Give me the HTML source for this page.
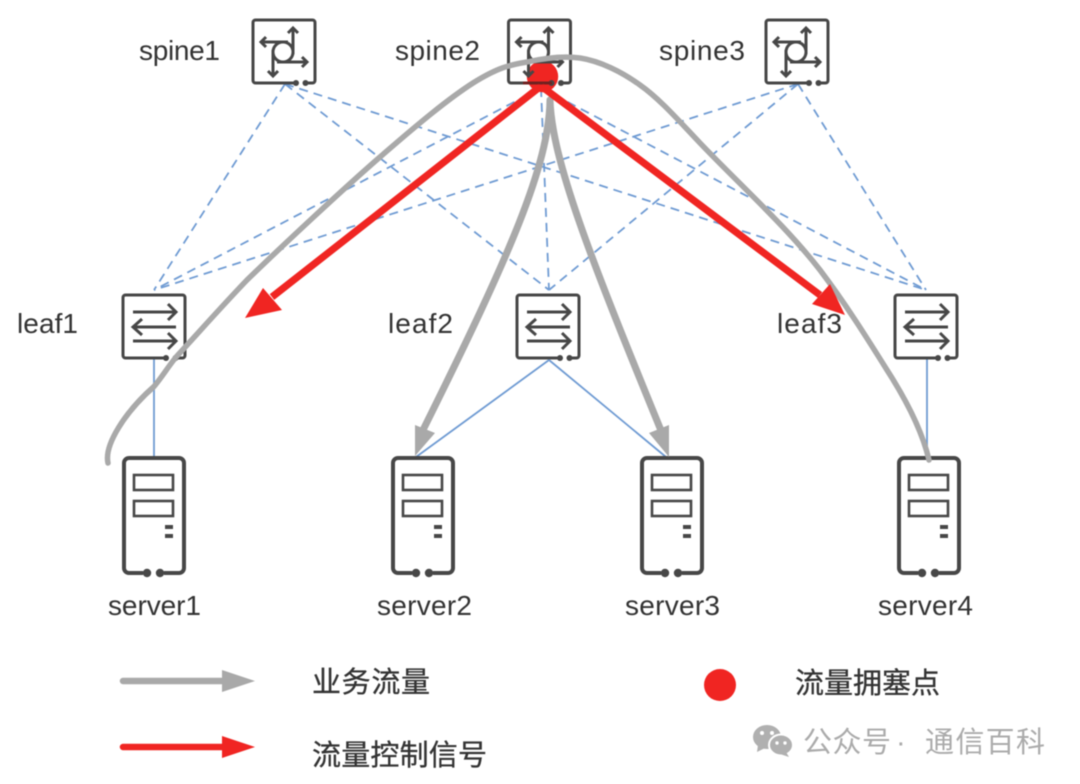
<!DOCTYPE html>
<html><head><meta charset="utf-8"><style>
html,body{margin:0;padding:0;background:#fff}
svg{display:block;filter:blur(0.4px)}
text{font-family:"Liberation Sans","Noto Sans CJK SC",sans-serif;fill:#333}
</style></head><body>
<svg width="1080" height="784" viewBox="0 0 1080 784" xmlns="http://www.w3.org/2000/svg">
<defs>
<g id="boxf" fill="none" stroke="#474747" stroke-width="3">
<path d="M44 64H3.500a2.500 2.500 0 0 1-2.500-2.500V3.500A2.500 2.500 0 0 1 3.500 1H60.500A2.500 2.500 0 0 1 63 3.500V61.500a2.500 2.500 0 0 1-2.500 2.500H54"/>
<circle cx="44" cy="64" r="3" fill="#474747" stroke="none"/>
<circle cx="53.500" cy="64" r="3" fill="#474747" stroke="none"/>
</g>
<g id="spine"><use href="#boxf"/>
<g fill="none" stroke="#474747" stroke-width="3" transform="translate(0,1)">
<circle cx="31" cy="32" r="10"/>
<path d="M9 22H36M41 34V9M21 30V55M25 42H54"/>
<path d="M14 17L9 22L14 27M36 13L41 8L46 13M16 51L21 56L26 51M50 37L55 42L50 47"/>
</g></g>
<g id="leaf"><use href="#boxf"/>
<g fill="none" stroke="#474747" stroke-width="3" transform="translate(0,1)">
<path d="M11 17H54M46 9L54 17L46 25M11 32H54M20 24L11 32L20 40M11 46H54M46 38L54 46L46 54"/>
</g></g>
<g id="server" fill="none" stroke="#474747" stroke-width="4">
<path d="M21 116H7a5 5 0 0 1-5-5V6A5 5 0 0 1 7 1H57a5 5 0 0 1 5 5V111a5 5 0 0 1-5 5H42"/>
<circle cx="25" cy="116" r="4.200" fill="#474747" stroke="none"/>
<circle cx="38" cy="116" r="4.200" fill="#474747" stroke="none"/>
<rect x="12" y="18" width="39" height="15" stroke-width="2.600"/>
<rect x="12" y="44" width="39" height="15" stroke-width="2.600"/>
<rect x="43" y="68" width="8" height="4" fill="#474747" stroke="none"/>
<rect x="43" y="77" width="8" height="4" fill="#474747" stroke="none"/>
</g>
</defs>
<rect width="1080" height="784" fill="#fff"/>

<!-- dashed links -->
<g stroke="#6f9bd3" stroke-width="1.800" fill="none" stroke-dasharray="9 6">
<path d="M285 84L154 290M285 84L549 290M285 84L926 290"/>
<path d="M541 88L154 290M541 88L549 290M541 88L926 290"/>
<path d="M798 84L154 290M798 84L549 290M798 84L926 290"/>
</g>
<!-- solid links -->
<g stroke="#6f9bd3" stroke-width="1.800" fill="none">
<path d="M154 359V458M549 360L416 457M549 360L666 457M927 359V458"/>
</g>

<!-- red point under icons -->
<circle cx="542.500" cy="76.500" r="15.700" fill="#f02522"/>

<use href="#spine" x="252" y="19"/>
<use href="#spine" x="507.500" y="19"/>
<use href="#spine" x="765" y="19"/>
<use href="#leaf" x="122" y="294"/>
<use href="#leaf" x="516" y="294"/>
<use href="#leaf" x="894" y="294"/>
<use href="#server" x="122" y="457"/>
<use href="#server" x="391" y="457"/>
<use href="#server" x="640" y="457"/>
<use href="#server" x="897" y="457"/>

<!-- gray flows -->
<g fill="none" stroke="#a9a9a9" stroke-linecap="round">
<path d="M108 463C104 445 125 412 154 386.500C162 377 170 364 177 356C200 331 222 306 247 280C281 247 342 190 380 157C418 124 448 99 473 83C497 68 509 65 527 62C545 58 565 56 580 58C600 61 622 72 640 85C660 99 680 122 700 143C740 185 785 225 820 270C845 303 867 338 887 370C905 398 922 430 929 460" stroke-width="5.500"/>
<path d="M550 100C549 165 510 255 424 428" stroke-width="7"/>
<path d="M550 100C552 160 590 257 660 428" stroke-width="7"/>
</g>
<path d="M415 456L415 425L435 433Z" fill="#a9a9a9"/>
<path d="M669 457L649 433L669 425Z" fill="#a9a9a9"/>

<!-- red -->
<g stroke="#f02522" stroke-width="7.200" fill="none">
<path d="M541 86L272 297M541 86L820 295"/>
</g>
<path d="M245 318L263 288L282 310Z" fill="#f02522"/>
<path d="M845 315L812 304L830 284Z" fill="#f02522"/>
<path d="M523 83H552" stroke="#7a1a18" stroke-width="3" opacity=".8"/>

<!-- labels -->
<g font-size="28">
<text x="139" y="60" textLength="81">spine1</text>
<text x="395" y="60" textLength="85">spine2</text>
<text x="659" y="60" textLength="86">spine3</text>
<text x="17" y="333" textLength="61">leaf1</text>
<text x="388" y="333" textLength="65">leaf2</text>
<text x="777" y="333" textLength="65">leaf3</text>
<text x="108" y="615" textLength="93">server1</text>
<text x="377" y="615" textLength="95">server2</text>
<text x="625" y="615" textLength="95">server3</text>
<text x="878" y="615" textLength="95">server4</text>
</g>

<!-- legend -->
<path d="M123 681H225" stroke="#a9a9a9" stroke-width="6.500" stroke-linecap="round"/>
<path d="M222 670L255 681L222 692Z" fill="#a9a9a9"/>
<path d="M123 747H225" stroke="#f02522" stroke-width="6.500" stroke-linecap="round"/>
<path d="M222 736L255 747L222 758Z" fill="#f02522"/>
<circle cx="720" cy="685" r="16" fill="#f02522"/>
<g font-size="29" style="stroke:#333;stroke-width:.3">
<text x="312" y="692" textLength="118">业务流量</text>
<text x="312" y="765" textLength="175">流量控制信号</text>
<text x="795" y="693" textLength="145">流量拥塞点</text>
</g>

<!-- watermark -->
<g fill="#b0b0b0">
<ellipse cx="767" cy="737" rx="14" ry="12"/>
<path d="M758 745L757 752L765 748Z"/>
<ellipse cx="781" cy="745" rx="12" ry="10.500" stroke="#fff" stroke-width="2"/>
<path d="M786 752L789 757L780 754Z"/>
</g>
<g fill="#fff"><circle cx="762" cy="733" r="2"/><circle cx="772" cy="733" r="2"/><circle cx="777" cy="743" r="1.700"/><circle cx="785" cy="743" r="1.700"/></g>
<g font-size="29">
<text x="803" y="752" textLength="88" style="fill:#ababab">公众号</text>
<text x="896" y="752" style="fill:#ababab">·</text>
<text x="925" y="752" textLength="120" style="fill:#ababab">通信百科</text>
</g>
</svg>
</body></html>
